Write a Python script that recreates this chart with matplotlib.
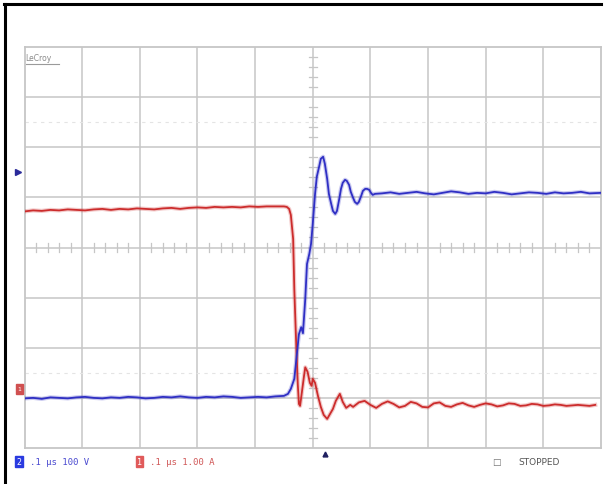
import matplotlib
matplotlib.use("Agg")
import matplotlib.pyplot as plt
from matplotlib.lines import Line2D
from matplotlib.patches import Rectangle

# ---- scope settings ----
time_per_div_ns = 100.0      # .1 µs / div
volts_per_div = 100.0        # channel 2
amps_per_div = 1.00          # channel 1
ch2_offset_div = -3.0
ch1_offset_div = -3.1

# ---- channel 2 : voltage (V) ----
v_time_ns = [-500, -485, -470, -455, -440, -425, -410, -395, -380, -365, -350,
             -335, -320, -305, -290, -275, -260, -245, -230, -215, -200, -185,
             -170, -155, -140, -125, -110, -95, -80, -65, -50,
             -43, -38, -32, -27, -24, -20, -17, -13, -10, -6, -3, 0, 4, 7, 11,
             14, 18, 21, 25, 28, 32, 35, 39, 42, 46, 49, 52, 56, 59, 63, 66,
             70, 73, 77, 80, 84, 87, 91, 94, 98, 101, 104, 108,
             120, 135, 150, 165, 180, 195, 210, 225, 240, 255, 270, 285, 300,
             315, 330, 345, 360, 375, 390, 405, 420, 435, 450, 465, 480, 500]
v_volts = [-1, 0, -2, 1, 0, -1, 1, 2, 0, -1, 1, 0, 2, 1, -1, 0, 2, 1, 3, 1,
           0, 2, 1, 3, 2, 0, 1, 2, 1, 3, 4,
           8, 18, 38, 93, 127, 141, 129, 197, 267, 287, 307, 347, 407, 441,
           461, 477, 481, 467, 437, 407, 387, 373, 367, 373, 397, 417, 429,
           435, 433, 425, 411, 399, 391, 387, 391, 403, 413, 417, 417, 415,
           409, 405, 407,
           408, 410, 407, 409, 411, 408, 406, 409, 412, 410, 407, 409, 408,
           411, 409, 406, 408, 410, 409, 407, 410, 408, 409, 411, 408, 409]

# ---- channel 1 : current (A) ----
i_time_ns = [-500, -485, -470, -455, -440, -425, -410, -395, -380, -365, -350,
             -335, -320, -305, -290, -275, -260, -245, -230, -215, -200, -185,
             -170, -155, -140, -125, -110, -95, -80, -65, -50,
             -45, -41, -38, -34, -32, -29, -26, -24, -22, -19, -15, -13, -9,
             -5, -2, 0, 4, 9, 14, 19, 25, 30, 35, 40, 47, 52, 58, 65,
             70, 80, 90, 100, 110, 120, 130, 140, 150, 160, 170, 180, 190,
             200, 210, 220, 230, 240, 250, 260, 270, 280, 290, 300, 310, 320,
             330, 340, 350, 360, 370, 380, 390, 400, 410, 420, 430, 440, 450,
             460, 470, 480, 490]
i_amps = [3.82, 3.84, 3.83, 3.85, 3.84, 3.86, 3.85, 3.84, 3.86, 3.87, 3.85,
          3.87, 3.86, 3.88, 3.87, 3.86, 3.88, 3.89, 3.87, 3.89, 3.90, 3.89,
          3.91, 3.90, 3.91, 3.90, 3.92, 3.91, 3.92, 3.92, 3.92,
          3.91, 3.87, 3.75, 3.27, 2.27, 1.27, 0.38, -0.02, -0.06, 0.20, 0.55,
          0.71, 0.62, 0.40, 0.34, 0.48, 0.40, 0.14, -0.08, -0.24, -0.32,
          -0.22, -0.12, 0.04, 0.18, 0.02, -0.10, -0.04,
          -0.08, 0.01, 0.04, -0.04, -0.10, -0.02, 0.03, -0.02, -0.09, -0.06,
          0.02, -0.01, -0.08, -0.09, -0.01, 0.01, -0.06, -0.08, -0.03, 0.00,
          -0.05, -0.08, -0.04, -0.01, -0.03, -0.07, -0.05, -0.01, -0.02,
          -0.06, -0.05, -0.02, -0.03, -0.06, -0.05, -0.03, -0.04, -0.06,
          -0.05, -0.04, -0.05, -0.06, -0.04]

BLUE = "#2f2fc4"
RED = "#cc2c2c"
GRID = "#c6c6c6"

W, H = 610, 485
fig = plt.figure(figsize=(W / 100, H / 100), dpi=100)
fig.patch.set_facecolor("white")

# screen area: 10 x 8 divisions
x0, y_top, x1, y_bot = 24.5, 48.0, 601.0, 449.0
ax = fig.add_axes([x0 / W, (H - y_bot) / H, (x1 - x0) / W, (y_bot - y_top) / H])
ax.set_xlim(0, 10)
ax.set_ylim(-4, 4)
ax.set_xticks([])
ax.set_yticks([])
for s in ax.spines.values():
    s.set_color(GRID)
    s.set_linewidth(1.3)

# graticule
for gx in range(1, 10):
    ax.axvline(gx, color=GRID, lw=1.1, zorder=1)
for gy in range(-3, 4):
    ax.axhline(gy, color=GRID, lw=1.1, zorder=1)
# faint reference rows
for gy in (2.5, -2.5):
    ax.axhline(gy, color="#e4e4e4", lw=0.8, ls=(0, (3, 4)), zorder=1)
# centre crosshair tick marks
for k in range(-20, 21):
    yy = k * 0.2
    if k % 5:
        ax.plot([4.93, 5.07], [yy, yy], color=GRID, lw=0.9, zorder=1)
for k in range(0, 51):
    xx = k * 0.2
    if k % 5:
        ax.plot([xx, xx], [-0.08, 0.08], color=GRID, lw=0.9, zorder=1)

# traces
vx = [t / time_per_div_ns + 5 for t in v_time_ns]
vy = [v / volts_per_div + ch2_offset_div for v in v_volts]
ix = [t / time_per_div_ns + 5 for t in i_time_ns]
iy = [a / amps_per_div + ch1_offset_div for a in i_amps]

ax.plot(ix, iy, color=RED, lw=3.0, alpha=0.25, zorder=3, solid_joinstyle="round")
ax.plot(ix, iy, color=RED, lw=1.3, zorder=4, solid_joinstyle="round")
ax.plot(vx, vy, color=BLUE, lw=3.0, alpha=0.25, zorder=3, solid_joinstyle="round")
ax.plot(vx, vy, color=BLUE, lw=1.3, zorder=4, solid_joinstyle="round")

# channel markers at the left edge
ax.plot([-0.11], [1.51], marker=">", color="#2a2a9a", ms=4.5, clip_on=False)
ax.add_patch(Rectangle((-0.14, -2.92), 0.11, 0.2, color="#d05050",
                       clip_on=False, zorder=5))
ax.text(-0.085, -2.82, "1", color="white", fontsize=4.5, ha="center",
        va="center", clip_on=False, zorder=6, family="DejaVu Sans Mono")
# trigger marker below the screen
ax.plot([5.22], [-4.12], marker="^", color="#202060", ms=3.5, clip_on=False)

# brand label
ax.text(0.02, 3.79, "LeCroy", color="#8a8a8a", fontsize=5.5, ha="left",
        va="center", family="DejaVu Sans")
ax.plot([0.02, 0.6], [3.66, 3.66], color="#9a9a9a", lw=0.8)

# outer frame (left and top)
fig.add_artist(Line2D([5 / W, 5 / W], [0, (H - 5) / H], color="black", lw=2.2,
                      transform=fig.transFigure))
fig.add_artist(Line2D([4 / W, 601 / W], [(H - 5) / H, (H - 5) / H],
                      color="black", lw=2.2, transform=fig.transFigure))

# status line
ty = (H - 463) / H
fig.add_artist(Rectangle((15 / W, (H - 468) / H), 8 / W, 11 / H,
                         color="#2a3ae0", transform=fig.transFigure))
fig.text(19 / W, ty, "2", color="white", fontsize=6, ha="center", va="center",
         family="DejaVu Sans Mono")
fig.text(30 / W, ty, ".1 µs 100 V", color="#4a4ad0", fontsize=6.5,
         ha="left", va="center", family="DejaVu Sans Mono")
fig.add_artist(Rectangle((136 / W, (H - 468) / H), 7 / W, 11 / H,
                         color="#e05a5a", transform=fig.transFigure))
fig.text(139.5 / W, ty, "1", color="white", fontsize=6, ha="center",
         va="center", family="DejaVu Sans Mono")
fig.text(150 / W, ty, ".1 µs 1.00 A", color="#d05858", fontsize=6.5,
         ha="left", va="center", family="DejaVu Sans Mono")
fig.text(492 / W, ty, "□", color="#707070", fontsize=6.5, ha="left",
         va="center", family="DejaVu Sans")
fig.text(518 / W, ty, "STOPPED", color="#555555", fontsize=6.5, ha="left",
         va="center", family="DejaVu Sans")

fig.savefig("out.png", dpi=100, facecolor="white")
